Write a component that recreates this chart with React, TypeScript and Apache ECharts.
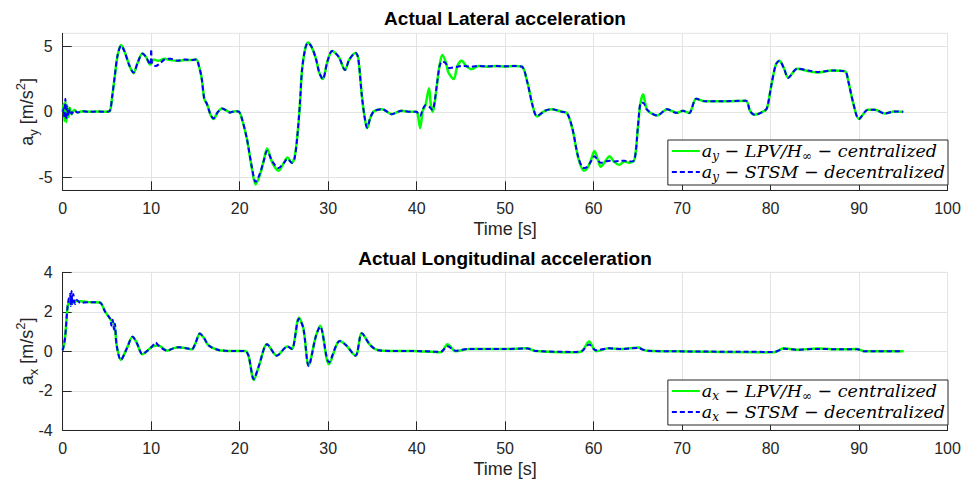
import React, { useEffect, useRef } from 'react';
import * as echarts from 'echarts';

// ---- Data (time [s], value) ----
const ayLPV: [number, number][] = [
  [0, 0], [0.1, 0.6], [0.2, -0.7], [0.3, 0.8], [0.4, -0.8], [0.5, 0.5], [0.65, -0.4], [0.8, 0.3], [1.0, -0.2], [1.3, 0.15], [1.7, -0.05], [2.2, 0.05], [3, 0], [4, 0.02], [5, 0],
  [5.35, 0.1], [5.6, 1.2], [5.9, 2.8], [6.2, 4.3], [6.6, 5.1], [7.0, 4.6], [7.5, 3.6], [8.0, 2.95], [8.5, 3.8], [9.0, 4.45], [9.4, 4.2], [9.9, 3.6], [10.3, 4.0], [10.8, 3.9],
  [11.5, 4.05], [12.2, 3.95], [13, 3.9], [13.8, 3.95], [14.5, 3.95], [15.1, 4.0], [15.4, 3.5], [15.7, 2.6], [16.0, 1.0], [16.3, 0.6], [16.7, -0.2], [17.05, -0.55], [17.5, -0.05],
  [18.0, 0.25], [18.5, 0.1], [18.9, -0.05], [19.5, 0.05], [19.9, 0.02], [20.2, -0.4], [20.8, -2.0], [21.4, -4.4], [21.8, -5.55], [22.3, -4.8], [22.7, -3.8], [23.1, -2.8],
  [23.7, -3.9], [24.4, -4.5], [25.0, -3.9], [25.4, -3.5], [25.9, -3.9], [26.2, -3.5], [26.5, -2.0], [26.8, 0.5], [27.05, 3.2], [27.4, 4.8], [27.7, 5.3], [28.1, 5.0], [28.6, 4.1],
  [29.0, 3.0], [29.4, 2.5], [29.9, 3.8], [30.45, 4.65], [31.2, 4.2], [31.9, 3.2], [32.4, 4.0], [33.1, 4.5], [33.4, 4.1], [33.8, 1.3], [34.1, -0.3], [34.4, -1.25], [34.8, -0.4],
  [35.2, 0.05], [36.1, 0.2], [37.2, -0.18], [38.3, 0.08], [39.3, 0], [40.0, 0], [40.2, -0.5], [40.4, -1.25], [40.7, 0.1], [41.0, 0.5], [41.4, 1.8], [41.6, 0.6], [41.8, 0],
  [42.0, 0.5], [42.3, 2.1], [42.6, 3.6], [42.9, 4.35], [43.3, 3.8], [43.6, 3.0], [44.2, 2.5], [44.6, 3.5], [45.1, 3.9], [45.6, 3.5], [46.2, 3.25], [47, 3.5], [48, 3.45],
  [49, 3.5], [50, 3.45], [51, 3.5], [51.9, 3.45], [52.5, 2.3], [53.1, 0.5], [53.6, -0.35], [54.5, 0.08], [55.3, 0.2], [56.4, 0], [57.0, -0.1], [57.6, -1.3], [58.3, -3.6],
  [58.9, -4.5], [59.3, -4.3], [59.7, -3.7], [60.1, -3.0], [60.5, -3.7], [60.8, -4.2], [61.3, -3.8], [61.8, -3.4], [62.3, -3.8], [62.9, -4.05], [63.5, -3.8], [64.0, -3.9],
  [64.6, -3.7], [65.0, -1.25], [65.3, 0.66], [65.6, 1.35], [66.05, 0.15], [67.2, -0.28], [68.3, 0.2], [69.4, -0.08], [70.1, 0.08], [70.8, -0.1], [71.6, 1.0], [72.6, 0.8],
  [74.5, 0.8], [77.2, 0.85], [77.7, 0.03], [78.2, -0.23], [79.2, 0.03], [79.6, 0.28], [80.1, 2.07], [80.6, 3.6], [81.0, 3.9], [81.5, 3.35], [82.0, 2.6], [83.0, 3.3],
  [84.3, 3.1], [85.4, 3.0], [86.9, 3.15], [88.4, 3.1], [88.8, 2.3], [89.3, 0.8], [90.0, -0.55], [91.0, 0.15], [91.8, 0.15], [92.9, -0.13], [94.0, 0.03], [95, 0],
];

const aySTSM: [number, number][] = [
  [0, 0], [0.1, 0.3], [0.2, -0.5], [0.3, 1.0], [0.4, -0.6], [0.5, 0.4], [0.65, -0.3], [0.8, 0.25], [1.0, -0.15], [1.3, 0.1], [1.7, -0.05], [2.2, 0.05], [3, 0], [4, 0.02], [5, 0],
  [5.35, 0.1], [5.6, 1.2], [5.9, 2.8], [6.2, 4.3], [6.6, 5.05], [7.0, 4.6], [7.5, 3.6], [8.0, 3.0], [8.5, 3.8], [9.0, 4.45], [9.4, 4.2], [9.9, 3.6], [10.0, 4.8], [10.1, 3.7],
  [10.5, 3.5], [11.0, 3.7], [11.5, 4.0], [12.2, 4.05], [13, 3.9], [13.8, 4.0], [14.5, 3.95], [15.1, 4.0], [15.4, 3.5], [15.7, 2.6], [16.0, 1.0], [16.3, 0.6], [16.7, -0.2],
  [17.05, -0.5], [17.5, -0.05], [18.0, 0.25], [18.5, 0.1], [18.9, -0.05], [19.5, 0.05], [19.9, 0.02], [20.2, -0.4], [20.8, -2.0], [21.4, -4.3], [21.8, -5.35], [22.3, -4.7],
  [22.7, -3.8], [23.1, -3.0], [23.7, -3.8], [24.4, -4.3], [25.0, -3.9], [25.4, -3.6], [25.9, -3.9], [26.2, -3.6], [26.5, -2.0], [26.8, 0.5], [27.05, 3.2], [27.4, 4.8],
  [27.7, 5.25], [28.1, 5.0], [28.6, 4.1], [29.0, 3.0], [29.4, 2.5], [29.9, 3.8], [30.45, 4.65], [31.2, 4.2], [31.9, 3.2], [32.4, 4.0], [33.1, 4.5], [33.4, 4.1], [33.8, 1.3],
  [34.1, -0.3], [34.4, -1.2], [34.8, -0.4], [35.2, 0.05], [36.1, 0.2], [37.2, -0.18], [38.3, 0.08], [39.3, 0], [40.0, 0], [40.2, -0.2], [40.4, -0.3], [40.7, 0.2], [41.0, 0.5],
  [41.4, 0.4], [41.8, 0.15], [42.0, 0.6], [42.3, 2.1], [42.6, 3.5], [42.9, 3.85], [43.3, 3.7], [43.6, 3.35], [44.2, 3.4], [44.6, 3.45], [45.1, 3.5], [46.2, 3.45], [47, 3.5],
  [48, 3.48], [49, 3.5], [50, 3.48], [51, 3.5], [51.9, 3.45], [52.5, 2.3], [53.1, 0.5], [53.6, -0.33], [54.5, 0.08], [55.3, 0.2], [56.4, 0], [57.0, -0.1], [57.6, -1.25],
  [58.3, -3.55], [58.9, -4.3], [59.3, -4.2], [59.7, -3.8], [60.1, -3.4], [60.5, -3.7], [60.8, -3.9], [61.3, -3.8], [61.8, -3.75], [62.3, -3.8], [62.9, -3.75], [63.5, -3.75],
  [64.0, -3.8], [64.6, -3.7], [65.0, -1.25], [65.3, 0.66], [65.6, 0.7], [66.05, 0.15], [67.2, -0.28], [68.3, 0.2], [69.4, -0.08], [70.1, 0.08], [70.8, -0.1], [71.6, 1.0],
  [72.6, 0.8], [74.5, 0.8], [77.2, 0.85], [77.7, 0.03], [78.2, -0.23], [79.2, 0.03], [79.6, 0.28], [80.1, 2.07], [80.6, 3.6], [81.0, 3.9], [81.5, 3.35], [82.0, 2.6],
  [83.0, 3.3], [84.3, 3.15], [85.4, 3.05], [86.9, 3.15], [88.4, 3.1], [88.8, 2.3], [89.3, 0.8], [90.0, -0.55], [91.0, 0.15], [91.8, 0.15], [92.9, -0.13], [94.0, 0.03], [95, 0],
];

const axLPV: [number, number][] = [
  [0, 0.05], [0.26, 0.66], [0.57, 2.3], [0.83, 2.6], [1.0, 2.4], [1.2, 2.5], [1.6, 2.55], [2.9, 2.49], [4.2, 2.47], [4.8, 2.0], [5.36, 1.65], [5.85, 1.3], [6.1, 0.3],
  [6.57, -0.44], [7.25, 0.15], [7.9, 0.74], [8.4, 0.4], [9.0, -0.15], [9.5, 0], [10.1, 0.24], [10.8, 0.3], [11.8, 0.03], [12.5, 0.15], [13.1, 0.2], [14.0, 0.15], [14.6, 0.1],
  [15.0, 0.4], [15.5, 0.9], [16.0, 0.65], [16.5, 0.29], [17.6, 0.07], [19, 0.02], [20.6, 0.02], [21.0, -0.22], [21.6, -1.45], [22.2, -0.7], [23.1, 0.36], [24.2, -0.22],
  [25.4, 0.24], [25.9, 0.12], [26.7, 1.7], [27.2, 1.17], [27.8, -0.7], [28.6, 0.74], [29.1, 1.3], [30.1, -0.65], [31.3, 0.52], [32.0, 0.32], [33.1, -0.22], [33.8, 0.91],
  [34.8, 0.29], [35.7, 0.05], [37, 0.02], [39.5, 0.02], [42.7, -0.05], [43.5, 0.36], [44.4, 0.0], [45.9, 0.12], [50.0, 0.12], [52.5, 0.15], [53.4, 0.02], [57.9, -0.05],
  [58.7, 0.02], [59.5, 0.49], [60.0, 0.15], [60.3, 0.0], [61.7, 0.15], [63.2, 0.12], [65.1, 0.19], [65.5, 0.1], [66.05, 0.03], [69.1, 0], [80.4, -0.05], [81.5, 0.15],
  [83.0, 0.08], [85.3, 0.14], [87.9, 0.1], [89.8, 0.12], [90.6, 0], [95, 0],
];

const axSTSM: [number, number][] = [
  [0, 0.05], [0.26, 0.66], [0.57, 2.35], [0.83, 2.9], [0.9, 2.3], [1.0, 3.05], [1.1, 2.4], [1.2, 2.9], [1.4, 2.4], [1.6, 2.6], [2.0, 2.45], [2.9, 2.49], [4.2, 2.47],
  [4.8, 2.0], [5.36, 1.65], [5.5, 1.3], [5.65, 1.6], [5.8, 1.1], [5.9, 1.4], [6.1, 0.3], [6.57, -0.44], [7.25, 0.15], [7.9, 0.74], [8.4, 0.4], [9.0, -0.15], [9.5, 0],
  [10.1, 0.24], [10.5, 0.45], [10.8, 0.3], [11.8, 0.03], [12.5, 0.15], [13.1, 0.2], [14.0, 0.15], [14.6, 0.1], [15.0, 0.4], [15.5, 0.9], [16.0, 0.65], [16.5, 0.29],
  [17.6, 0.07], [19, 0.02], [20.6, 0.02], [21.0, -0.22], [21.6, -1.4], [22.2, -0.7], [23.1, 0.36], [24.2, -0.22], [25.4, 0.24], [25.9, 0.12], [26.7, 1.65], [27.2, 1.17],
  [27.8, -0.75], [28.6, 0.74], [29.1, 1.25], [30.1, -0.55], [31.3, 0.52], [32.0, 0.32], [33.1, -0.22], [33.8, 0.91], [34.8, 0.29], [35.7, 0.05], [37, 0.02], [39.5, 0.02],
  [42.7, -0.03], [43.5, 0.25], [44.4, 0.03], [45.9, 0.12], [50.0, 0.12], [52.5, 0.14], [53.4, 0.02], [57.9, -0.03], [58.7, 0.02], [59.5, 0.35], [60.0, 0.12], [60.3, 0.05],
  [61.7, 0.15], [63.2, 0.12], [65.1, 0.17], [65.5, 0.1], [66.05, 0.03], [69.1, 0], [80.4, -0.03], [81.5, 0.13], [83.0, 0.08], [85.3, 0.12], [87.9, 0.1], [89.8, 0.1],
  [90.6, 0], [95, 0],
];

const xTicks = { min: 0, max: 100, interval: 10 };
const ayTickValues = [-5, 0, 5];
const axTicks = { min: -4, max: 4, interval: 2 };

const titles = ['Actual Lateral acceleration', 'Actual Longitudinal acceleration'];
const xName = 'Time [s]';

const legendLabels: Record<string, string> = {
  'ay-LPV': '{v|a}{s|y}{t| − LPV/H}{s|∞}{t| − centralized}',
  'ay-STSM': '{v|a}{s|y}{t| − STSM − decentralized}',
  'ax-LPV': '{v|a}{s|x}{t| − LPV/H}{s|∞}{t| − centralized}',
  'ax-STSM': '{v|a}{s|x}{t| − STSM − decentralized}',
};

const SANS = '"Liberation Sans", Arial, Helvetica, sans-serif';
const SERIF = '"DejaVu Serif", "Liberation Serif", serif';
const AXIS_COLOR = '#262626';
const GRID_COLOR = '#e3e3e3';
const GREEN = '#00ff00';
const BLUE = '#0000ff';

const yNameRich = {
  b: { fontSize: 18, fontFamily: SANS, color: AXIS_COLOR, lineHeight: 26 },
  s: { fontSize: 13, fontFamily: SANS, color: AXIS_COLOR, lineHeight: 12, verticalAlign: 'bottom' },
  p: { fontSize: 13, fontFamily: SANS, color: AXIS_COLOR, lineHeight: 12, verticalAlign: 'top' },
};

const legendRich = {
  v: { fontSize: 17.5, fontFamily: SERIF, fontStyle: 'italic', color: '#000', lineHeight: 22 },
  t: { fontSize: 17.5, fontFamily: SERIF, fontStyle: 'italic', color: '#000', lineHeight: 22 },
  s: { fontSize: 12, fontFamily: SERIF, fontStyle: 'italic', color: '#000', lineHeight: 11, verticalAlign: 'bottom' },
};

export default function App() {
  const ref = useRef<HTMLDivElement>(null);

  useEffect(() => {
    if (!ref.current) return;
    const chart = echarts.init(ref.current, undefined, { renderer: 'svg' });

    const grids = [
      { left: 62.7, right: 20.5, top: 33.3, height: 157, show: true, borderColor: GRID_COLOR, borderWidth: 1, outerBoundsMode: 'none', containLabel: false },
      { left: 62.7, right: 20.5, top: 272.3, height: 158, show: true, borderColor: GRID_COLOR, borderWidth: 1, outerBoundsMode: 'none', containLabel: false },
    ];

    const xAxis = [0, 1].map((i) => ({
      type: 'value',
      gridIndex: i,
      min: xTicks.min,
      max: xTicks.max,
      interval: xTicks.interval,
      name: xName,
      nameLocation: 'middle',
      nameGap: 30,
      nameMoveOverlap: false,
      nameTextStyle: { fontSize: 18, fontFamily: SANS, color: AXIS_COLOR, verticalAlign: 'top' },
      axisLine: { show: true, onZero: false, lineStyle: { color: AXIS_COLOR, width: 1 } },
      axisTick: { show: true, inside: true, length: 9, lineStyle: { color: AXIS_COLOR } },
      axisLabel: { fontSize: 16, fontFamily: SANS, color: AXIS_COLOR, margin: 10 },
      splitLine: { show: true, lineStyle: { color: GRID_COLOR, width: 1 } },
    }));

    const yCommon = {
      type: 'value',
      nameLocation: 'middle',
      nameRotate: 90,
      nameGap: 23,
      nameMoveOverlap: false,
      axisLine: { show: true, onZero: false, lineStyle: { color: AXIS_COLOR, width: 1 } },
      splitLine: { show: true, lineStyle: { color: GRID_COLOR, width: 1 } },
    };

    const yAxis = [
      {
        ...yCommon,
        gridIndex: 0,
        min: -6,
        max: 6,
        name: '{b|a}{s|y}{b| [m/s}{p|2}{b|]}',
        nameTextStyle: { rich: yNameRich },
        axisTick: { show: true, inside: true, length: 9, lineStyle: { color: AXIS_COLOR }, customValues: ayTickValues },
        axisLabel: { fontSize: 16, fontFamily: SANS, color: AXIS_COLOR, margin: 10, customValues: ayTickValues },
      },
      {
        ...yCommon,
        gridIndex: 1,
        min: axTicks.min,
        max: axTicks.max,
        interval: axTicks.interval,
        name: '{b|a}{s|x}{b| [m/s}{p|2}{b|]}',
        nameTextStyle: { rich: yNameRich },
        axisTick: { show: true, inside: true, length: 9, lineStyle: { color: AXIS_COLOR } },
        axisLabel: { fontSize: 16, fontFamily: SANS, color: AXIS_COLOR, margin: 10 },
      },
    ];

    const mk = (name: string, data: [number, number][], idx: number, dashed: boolean) => ({
      name,
      type: 'line',
      xAxisIndex: idx,
      yAxisIndex: idx,
      data,
      smooth: 0.3,
      symbol: 'none',
      showSymbol: false,
      z: dashed ? 3 : 2,
      lineStyle: dashed
        ? { color: BLUE, width: 2, type: [5, 3] }
        : { color: GREEN, width: 2.5, type: 'solid' },
      itemStyle: { color: dashed ? BLUE : GREEN },
    });

    const legendCommon = {
      orient: 'vertical',
      right: 20,
      itemWidth: 28,
      itemHeight: 12,
      itemGap: 1,
      padding: [2, 3, 2, 3],
      borderColor: AXIS_COLOR,
      borderWidth: 1,
      backgroundColor: '#ffffff',
      itemStyle: { color: 'rgba(0,0,0,0)', borderColor: 'rgba(0,0,0,0)', borderWidth: 0 },
      formatter: (n: string) => legendLabels[n],
      textStyle: { rich: legendRich, padding: [0, 0, 0, -3] },
    };

    chart.setOption({
      animation: false,
      backgroundColor: '#ffffff',
      grid: grids,
      xAxis,
      yAxis,
      legend: [
        { ...legendCommon, top: 140, data: ['ay-LPV', 'ay-STSM'] },
        { ...legendCommon, top: 380, data: ['ax-LPV', 'ax-STSM'] },
      ],
      graphic: [
        { type: 'text', x: 505, y: 18, style: { text: titles[0], align: 'center', verticalAlign: 'middle', font: `bold 19px ${SANS}`, fill: '#000' } },
        { type: 'text', x: 505, y: 258, style: { text: titles[1], align: 'center', verticalAlign: 'middle', font: `bold 19px ${SANS}`, fill: '#000' } },
      ],
      series: [
        mk('ay-LPV', ayLPV, 0, false),
        mk('ay-STSM', aySTSM, 0, true),
        mk('ax-LPV', axLPV, 1, false),
        mk('ax-STSM', axSTSM, 1, true),
      ],
    });

    return () => chart.dispose();
  }, []);

  return <div ref={ref} style={{ position: 'fixed', left: 0, top: 0, width: 968, height: 482 }} />;
}
